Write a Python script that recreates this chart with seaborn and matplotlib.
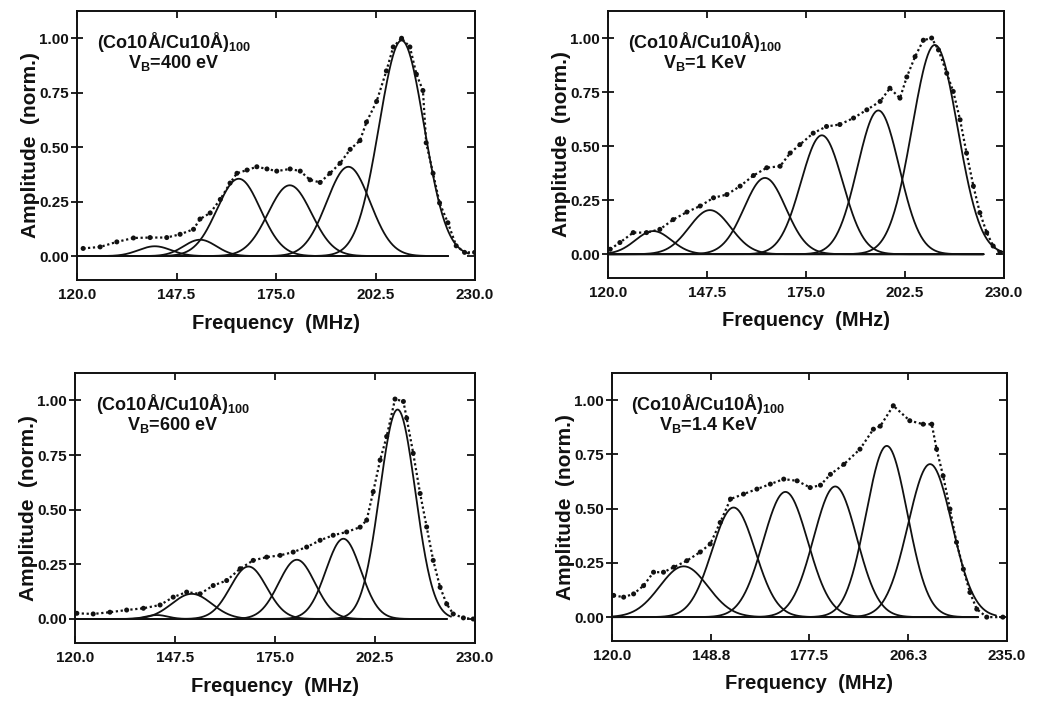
import numpy as np
import matplotlib
matplotlib.use("Agg")
import matplotlib.pyplot as plt
import seaborn as sns

# ---------------- data ----------------
TITLE = "(Co10Å/Cu10Å)$_{100}$"
Y_TICKS = [0.00, 0.25, 0.50, 0.75, 1.00]
Y_TICK_LABELS = ["0.00", "0.25", "0.50", "0.75", "1.00"]
X_LABEL = "Frequency  (MHz)"
Y_LABEL = "Amplitude  (norm.)"

# Panel 1: VB = 400 eV
P1_LABEL = "V$_B$=400 eV"
P1_XTICKS = [120.0, 147.5, 175.0, 202.5, 230.0]
P1_XTICK_LABELS = ["120.0", "147.5", "175.0", "202.5", "230.0"]
P1_FREQ = [121.7, 126.4, 131.0, 135.6, 140.2, 144.8, 148.5, 152.2, 154.0, 156.8,
           159.6, 162.3, 164.2, 167.0, 169.7, 172.5, 175.2, 178.9, 181.7, 184.4,
           187.2, 189.9, 192.7, 195.5, 198.2, 200.0, 202.8, 205.5, 207.4, 209.7,
           212.0, 213.8, 215.6, 216.5, 218.4, 220.2, 222.5, 224.8, 227.1, 229.9]
P1_AMP = [0.035, 0.042, 0.065, 0.083, 0.085, 0.085, 0.100, 0.123, 0.170, 0.198,
          0.260, 0.335, 0.380, 0.395, 0.410, 0.400, 0.390, 0.400, 0.390, 0.350,
          0.338, 0.380, 0.426, 0.490, 0.530, 0.615, 0.710, 0.850, 0.960, 1.000,
          0.960, 0.835, 0.760, 0.520, 0.380, 0.244, 0.153, 0.047, 0.017, 0.017]
P1_CENTERS = [141.5, 154.0, 164.7, 178.8, 195.0, 209.7]
P1_HEIGHTS = [0.045, 0.075, 0.355, 0.325, 0.410, 0.990]
P1_WIDTHS = [4.5, 4.5, 6.0, 6.0, 6.0, 6.2]
P1_BASE_END = 222.5

# Panel 2: VB = 1 KeV
P2_LABEL = "V$_B$=1 KeV"
P2_XTICKS = [120.0, 147.5, 175.0, 202.5, 230.0]
P2_XTICK_LABELS = ["120.0", "147.5", "175.0", "202.5", "230.0"]
P2_FREQ = [120.6, 123.3, 127.0, 130.7, 134.4, 138.1, 141.9, 145.6, 149.3, 153.0,
           156.7, 160.4, 164.1, 167.8, 170.6, 173.3, 177.0, 180.7, 184.4, 188.2,
           191.9, 195.6, 198.3, 201.1, 203.0, 205.3, 207.6, 209.9, 211.8, 214.1,
           215.9, 217.8, 219.6, 221.5, 223.3, 225.2, 227.0, 228.9]
P2_AMP = [0.023, 0.054, 0.100, 0.100, 0.115, 0.160, 0.195, 0.223, 0.261, 0.276,
          0.315, 0.364, 0.400, 0.407, 0.468, 0.507, 0.560, 0.591, 0.600, 0.630,
          0.668, 0.707, 0.768, 0.722, 0.820, 0.914, 0.990, 1.000, 0.945, 0.837,
          0.753, 0.622, 0.468, 0.315, 0.192, 0.100, 0.038, 0.008]
P2_CENTERS = [132.6, 148.3, 163.6, 179.4, 195.1, 210.8]
P2_HEIGHTS = [0.107, 0.204, 0.353, 0.550, 0.665, 0.968]
P2_WIDTHS = [5.0, 5.8, 5.8, 5.8, 5.8, 6.3]
P2_BASE_END = 224.3

# Panel 3: VB = 600 eV
P3_LABEL = "V$_B$=600 eV"
P3_XTICKS = [120.0, 147.5, 175.0, 202.5, 230.0]
P3_XTICK_LABELS = ["120.0", "147.5", "175.0", "202.5", "230.0"]
P3_FREQ = [120.5, 125.0, 129.6, 134.2, 138.8, 143.4, 147.0, 150.7, 154.4, 158.0,
           161.7, 165.4, 169.0, 172.7, 176.4, 180.0, 183.7, 187.4, 191.0, 194.7,
           198.4, 200.2, 202.0, 203.9, 205.7, 208.0, 210.3, 211.2, 213.0, 214.9,
           216.7, 218.5, 220.4, 222.2, 224.0, 226.8, 229.5]
P3_AMP = [0.026, 0.023, 0.031, 0.041, 0.049, 0.064, 0.100, 0.123, 0.115, 0.153,
          0.176, 0.230, 0.268, 0.283, 0.291, 0.306, 0.329, 0.360, 0.383, 0.398,
          0.420, 0.452, 0.582, 0.727, 0.835, 1.006, 0.995, 0.919, 0.758, 0.574,
          0.421, 0.268, 0.145, 0.069, 0.023, 0.005, 0.000]
P3_CENTERS = [142.5, 152.1, 167.7, 181.0, 193.8, 208.7]
P3_HEIGHTS = [0.018, 0.115, 0.240, 0.271, 0.367, 0.958]
P3_WIDTHS = [3.0, 5.5, 5.0, 5.0, 4.8, 4.9]
P3_BASE_END = 222.2

# Panel 4: VB = 1.4 KeV
P4_LABEL = "V$_B$=1.4 KeV"
P4_XTICKS = [120.0, 148.8, 177.5, 206.3, 235.0]
P4_XTICK_LABELS = ["120.0", "148.8", "177.5", "206.3", "235.0"]
P4_FREQ = [120.5, 123.4, 126.3, 129.2, 132.1, 135.0, 138.0, 141.8, 145.7, 148.6,
           151.5, 154.5, 158.3, 162.2, 166.1, 170.0, 173.9, 177.7, 180.7, 183.6,
           187.5, 192.2, 196.1, 198.1, 201.9, 206.7, 210.6, 213.1, 214.5, 216.4,
           218.4, 220.3, 222.3, 224.2, 226.2, 229.1, 233.8]
P4_AMP = [0.100, 0.092, 0.107, 0.145, 0.207, 0.207, 0.230, 0.260, 0.300, 0.337,
          0.436, 0.544, 0.567, 0.590, 0.613, 0.636, 0.628, 0.597, 0.608, 0.658,
          0.704, 0.774, 0.866, 0.880, 0.974, 0.905, 0.889, 0.889, 0.774, 0.651,
          0.498, 0.345, 0.221, 0.114, 0.037, 0.000, 0.000]
P4_CENTERS = [140.9, 155.4, 170.5, 185.0, 200.0, 212.6]
P4_HEIGHTS = [0.234, 0.505, 0.577, 0.602, 0.789, 0.705]
P4_WIDTHS = [7.0, 6.3, 6.5, 6.3, 6.0, 6.4]
P4_BASE_END = 226.5

# ---------------- styling ----------------
sns.set_theme(style="ticks")
plt.rcParams['font.family'] = ['Liberation Sans', 'DejaVu Sans']
plt.rcParams['font.weight'] = 'bold'
plt.rcParams['axes.labelweight'] = 'bold'
plt.rcParams['mathtext.fontset'] = 'custom'
plt.rcParams['mathtext.rm'] = 'Liberation Sans:bold'
plt.rcParams['mathtext.it'] = 'Liberation Sans:bold'
plt.rcParams['mathtext.bf'] = 'Liberation Sans:bold'

INK = "#111111"

panels = [
    dict(pos=[0.0741, 0.6011, 0.3831, 0.3832], xlim=(120, 230), label=P1_LABEL,
         xt=P1_XTICKS, xtl=P1_XTICK_LABELS, f=P1_FREQ, a=P1_AMP,
         c=P1_CENTERS, h=P1_HEIGHTS, w=P1_WIDTHS, be=P1_BASE_END),
    dict(pos=[0.5852, 0.6040, 0.3811, 0.3803], xlim=(120, 230), label=P2_LABEL,
         xt=P2_XTICKS, xtl=P2_XTICK_LABELS, f=P2_FREQ, a=P2_AMP,
         c=P2_CENTERS, h=P2_HEIGHTS, w=P2_WIDTHS, be=P2_BASE_END),
    dict(pos=[0.0722, 0.0840, 0.3850, 0.3846], xlim=(120, 230), label=P3_LABEL,
         xt=P3_XTICKS, xtl=P3_XTICK_LABELS, f=P3_FREQ, a=P3_AMP,
         c=P3_CENTERS, h=P3_HEIGHTS, w=P3_WIDTHS, be=P3_BASE_END),
    dict(pos=[0.5890, 0.0869, 0.3802, 0.3818], xlim=(120, 235), label=P4_LABEL,
         xt=P4_XTICKS, xtl=P4_XTICK_LABELS, f=P4_FREQ, a=P4_AMP,
         c=P4_CENTERS, h=P4_HEIGHTS, w=P4_WIDTHS, be=P4_BASE_END),
]


def gauss(x, c, h, s):
    return h * np.exp(-0.5 * ((x - c) / s) ** 2)


fig = plt.figure(figsize=(10.39, 7.02), dpi=100)

for p in panels:
    ax = fig.add_axes(p["pos"])
    xmin, xmax = p["xlim"]
    for c, h, s in zip(p["c"], p["h"], p["w"]):
        end = min(xmax, max(p["be"], c + 3.0 * s))
        xs = np.linspace(xmin, end, 500)
        sns.lineplot(x=xs, y=gauss(xs, c, h, s), ax=ax, color=INK, lw=1.3,
                     estimator=None, sort=False)
    # measured data: dense dotted trace
    sns.lineplot(x=p["f"], y=p["a"], ax=ax, color=INK, lw=1.6, estimator=None,
                 sort=False, linestyle=(0, (1.0, 1.2)), zorder=4)
    sns.scatterplot(x=p["f"], y=p["a"], ax=ax, s=13, color=INK, edgecolor="none",
                    linewidth=0, zorder=5)

    ax.set_xlim(xmin, xmax)
    ax.set_ylim(-0.11, 1.125)
    ax.set_xticks(p["xt"])
    ax.set_xticklabels(p["xtl"])
    ax.set_yticks(Y_TICKS)
    ax.set_yticklabels(Y_TICK_LABELS)
    ax.tick_params(axis="x", direction="in", top=True, bottom=True, length=5,
                   width=1.3, labelsize=11, pad=6, colors=INK)
    ax.tick_params(axis="y", direction="inout", left=True, right=False, length=8,
                   width=1.3, labelsize=11, pad=2, colors=INK)
    sec = ax.secondary_yaxis("right")
    sec.set_yticks(Y_TICKS)
    sec.tick_params(direction="in", length=6, width=1.3, labelright=False, colors=INK)
    for sp in list(ax.spines.values()) + list(sec.spines.values()):
        sp.set_linewidth(1.4)
        sp.set_color(INK)
    for lab in ax.get_xticklabels() + ax.get_yticklabels():
        lab.set_fontweight("bold")

    ax.set_xlabel(X_LABEL, fontsize=14.5, fontweight="bold", color=INK)
    ax.set_ylabel(Y_LABEL, fontsize=15, fontweight="bold", color=INK)
    ax.xaxis.set_label_coords(0.5, -0.125)
    ax.yaxis.set_label_coords(-0.093, 0.5)

    ax.text(0.244, 0.885, TITLE, transform=ax.transAxes, ha="center", va="center",
            fontsize=13, fontweight="bold", color=INK)
    ax.text(0.244, 0.806, p["label"], transform=ax.transAxes, ha="center", va="center",
            fontsize=13, fontweight="bold", color=INK)

fig.savefig("out.png", dpi=100, facecolor="white")
